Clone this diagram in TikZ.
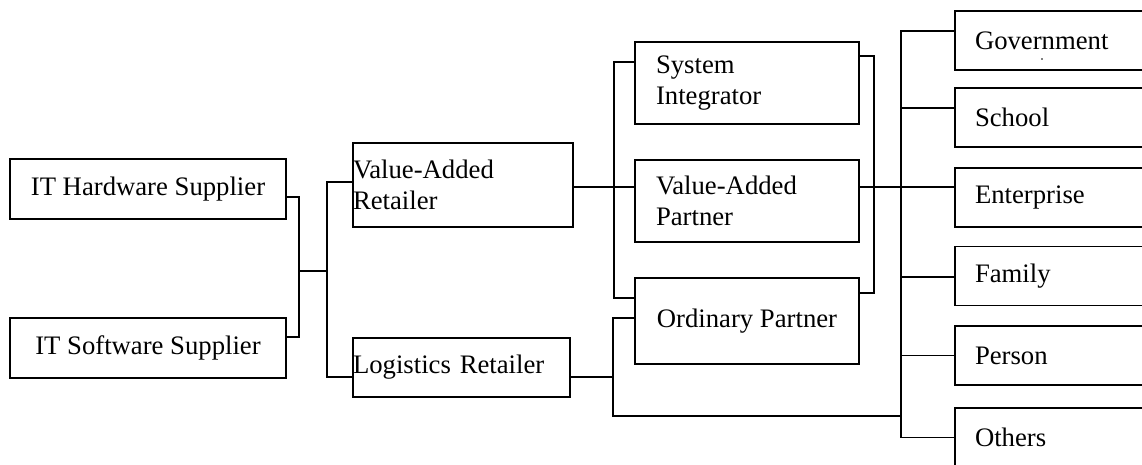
\documentclass[tikz,border=0pt]{standalone}
\usepackage{fontspec}
\setmainfont{Liberation Serif}
\begin{document}
\begin{tikzpicture}[x=1pt,y=-1pt,
  every node/.style={font=\fontsize{26.7}{30.5}\selectfont},
  box/.style={draw, line width=1.1pt, rectangle, inner ysep=0pt, outer sep=0pt},
  lbox/.style={box, align=left},
  rbox/.style={box, anchor=west, align=left, inner xsep=20pt, text width=170pt, minimum height=59pt},
  link/.style={line width=1.3pt}]
\useasboundingbox (0,0) rectangle (1142,464);
\clip (0,0) rectangle (1142,464);

% suppliers
\node[box, anchor=north west, minimum width=276pt, minimum height=60pt] (hw) at (10,159) {IT Hardware Supplier};
\node[box, anchor=north west, minimum width=276pt, minimum height=60pt] (sw) at (10,318) {IT Software Supplier};

% retailers
\node[lbox, anchor=north west, inner xsep=0pt, text width=220pt, minimum height=84pt] (var) at (353,143) {Value-Added\\Retailer};
\node[lbox, anchor=north west, inner xsep=0pt, text width=217pt, minimum height=59pt] (log) at (353,338) {Logistics Retailer};

% partners
\node[lbox, anchor=north west, inner xsep=21pt, text width=182pt, minimum height=82pt] (si) at (635,42) {System\\Integrator};
\node[lbox, anchor=north west, inner xsep=21pt, text width=182pt, minimum height=82pt] (vap) at (635,160) {Value-Added\\Partner};
\node[box, anchor=north west, minimum width=224pt, minimum height=86pt] (op) at (635,278) {Ordinary Partner};

% customers
\node[rbox] (gov) at (955,40.5) {Government};
\node[rbox] (sch) at (955,117.5) {School};
\node[rbox] (ent) at (955,197.5) {Enterprise};
\node[rbox] (fam) at (955,276) {Family};
\node[rbox] (per) at (955,355.5) {Person};
\node[rbox] (oth) at (955,437.5) {Others};
\fill (1042,59) circle (0.8pt);

% junction coordinates
\coordinate (j1) at (299,271);
\coordinate (j2) at (327,271);
\coordinate (b1) at (614,187);
\coordinate (b2) at (613,377);
\coordinate (b3) at (901,416);
\coordinate (b4) at (874,174);
\coordinate (b5) at (901,187);

% connectors
\draw[link] ([yshift=-8pt]hw.east) -| (j1) |- ([yshift=11pt]sw.east);
\draw[link] (j1) -- (j2);
\draw[link] ([yshift=3pt]var.west) -| (j2) |- ([yshift=-9.5pt]log.west);

\draw[link] ([yshift=-2pt]var.east) -- ([yshift=14pt]vap.west);
\draw[link] ([yshift=21pt]si.west) -| (b1) |- ([yshift=23pt]op.west);

\draw[link] ([yshift=-9.5pt]log.east) -- (b2);
\draw[link] ([yshift=3pt]op.west) -| (b2) |- (b3);

\draw[link] ([yshift=27pt]si.east) -| (b4) |- ([yshift=28pt]op.east);
\draw[link] ([yshift=14pt]vap.east) -- (b5) -- ([yshift=10.5pt]ent.west);

\draw[link] ([yshift=9.5pt]gov.west) -| (b5) |- (oth.west);
\draw[link] ([yshift=9.5pt]sch.west) -| (b5);
\draw[link] ([yshift=-1pt]fam.west) -| (b5);
\draw[link] (per.west) -| (b5);
\end{tikzpicture}
\end{document}
